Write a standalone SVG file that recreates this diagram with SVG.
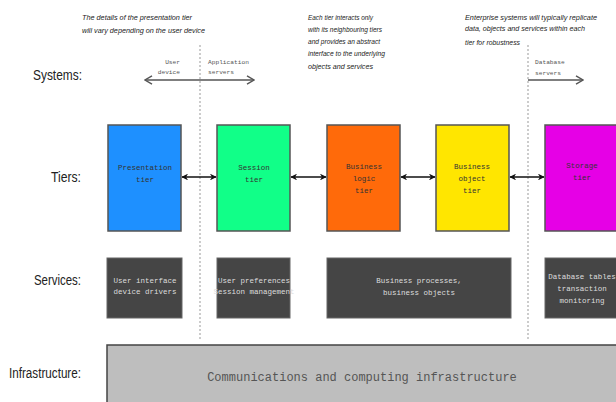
<svg xmlns="http://www.w3.org/2000/svg" width="616" height="402" viewBox="0 0 616 402">
<style>
.lbl{font-family:"Liberation Sans",Arial,sans-serif;font-size:14px;fill:#222;text-anchor:end}
.note{font-family:"Liberation Sans",Arial,sans-serif;font-style:italic;font-size:8px;fill:#222}
.mono{font-family:"Liberation Mono","Courier New",monospace;text-anchor:middle}
.tier{stroke:#555;stroke-width:1.5}
.tt{font-size:7.5px;fill:#333}
.svc{fill:#454545;stroke:#666;stroke-width:1}
.st{font-size:7.5px;fill:#ddd}
.sys{font-family:"Liberation Mono","Courier New",monospace;font-size:6.2px;fill:#555}
.div{stroke:#999;stroke-width:1;stroke-dasharray:2,2;fill:none}
.conn{stroke:#111;stroke-width:1.5;fill:none}
.open{stroke:#555;stroke-width:1.3;fill:none}
</style>
<defs>
<marker id="ah" viewBox="0 0 10 10" refX="9" refY="5" markerWidth="4.5" markerHeight="4.5" orient="auto-start-reverse">
<path d="M0,0 L10,5 L0,10 L3,5 z" fill="#111"/>
</marker>
<marker id="oh" viewBox="0 0 10 10" refX="9" refY="5" markerWidth="10" markerHeight="10" orient="auto-start-reverse" markerUnits="userSpaceOnUse">
<path d="M2,0.8 L9,5 L2,9.2" fill="none" stroke="#555" stroke-width="1.4"/>
</marker>
</defs>
<rect width="616" height="402" fill="#fff"/>

<g id="row-labels">
<text class="lbl" x="82" y="80" textLength="49" lengthAdjust="spacingAndGlyphs">Systems:</text>
<text class="lbl" x="81" y="182" textLength="30" lengthAdjust="spacingAndGlyphs">Tiers:</text>
<text class="lbl" x="81" y="285" textLength="47" lengthAdjust="spacingAndGlyphs">Services:</text>
<text class="lbl" x="81" y="378" textLength="72" lengthAdjust="spacingAndGlyphs">Infrastructure:</text>
</g>

<g id="notes">
<text class="note" x="82" y="20" textLength="110" lengthAdjust="spacingAndGlyphs">The details of the presentation tier</text>
<text class="note" x="82" y="33" textLength="123" lengthAdjust="spacingAndGlyphs">will vary depending on the user device</text>
<text class="note" x="308" y="20" textLength="65" lengthAdjust="spacingAndGlyphs">Each tier interacts only</text>
<text class="note" x="308" y="32" textLength="74" lengthAdjust="spacingAndGlyphs">with its neighbouring tiers</text>
<text class="note" x="308" y="44" textLength="72" lengthAdjust="spacingAndGlyphs">and provides an abstract</text>
<text class="note" x="308" y="56" textLength="77" lengthAdjust="spacingAndGlyphs">interface to the underlying</text>
<text class="note" x="308" y="69" textLength="65" lengthAdjust="spacingAndGlyphs">objects and services</text>
<text class="note" x="465" y="20" textLength="132" lengthAdjust="spacingAndGlyphs">Enterprise systems will typically replicate</text>
<text class="note" x="465" y="31" textLength="120" lengthAdjust="spacingAndGlyphs">data, objects and services within each</text>
<text class="note" x="465" y="45" textLength="55" lengthAdjust="spacingAndGlyphs">tier for robustness</text>
</g>

<g id="systems">
<text class="sys" x="180" y="64" text-anchor="end">User</text>
<text class="sys" x="180" y="74" text-anchor="end">device</text>
<text class="sys" x="208" y="64">Application</text>
<text class="sys" x="208" y="74">servers</text>
<text class="sys" x="535" y="64">Database</text>
<text class="sys" x="535" y="75">servers</text>
</g>

<g id="connectors">
<line class="div" x1="200" y1="45" x2="200" y2="340"/>
<line class="div" x1="528" y1="45" x2="528" y2="340"/>
<line class="open" x1="145" y1="80" x2="254" y2="80" marker-start="url(#oh)" marker-end="url(#oh)"/>
<line class="open" x1="528" y1="80" x2="583" y2="80" marker-end="url(#oh)"/>
<line class="conn" x1="182" y1="177" x2="216" y2="177" marker-start="url(#ah)" marker-end="url(#ah)"/>
<line class="conn" x1="291" y1="177" x2="326" y2="177" marker-start="url(#ah)" marker-end="url(#ah)"/>
<line class="conn" x1="401" y1="177" x2="435" y2="177" marker-start="url(#ah)" marker-end="url(#ah)"/>
<line class="conn" x1="510" y1="177" x2="544" y2="177" marker-start="url(#ah)" marker-end="url(#ah)"/>
</g>

<g id="presentation-tier">
<rect class="tier" x="108" y="125" width="73" height="106" fill="#1e90ff"/>
<text class="mono tt" x="145" y="170">Presentation</text>
<text class="mono tt" x="145" y="182">tier</text>
</g>
<g id="session-tier">
<rect class="tier" x="217" y="125" width="73" height="106" fill="#11ff88"/>
<text class="mono tt" x="254" y="170">Session</text>
<text class="mono tt" x="254" y="182">tier</text>
</g>
<g id="business-logic-tier">
<rect class="tier" x="327" y="125" width="73" height="106" fill="#ff6a0a"/>
<text class="mono tt" x="364" y="169">Business</text>
<text class="mono tt" x="364" y="181">logic</text>
<text class="mono tt" x="364" y="193">tier</text>
</g>
<g id="business-object-tier">
<rect class="tier" x="436" y="125" width="73" height="106" fill="#ffe600"/>
<text class="mono tt" x="472" y="169">Business</text>
<text class="mono tt" x="472" y="181">object</text>
<text class="mono tt" x="472" y="193">tier</text>
</g>
<g id="storage-tier">
<rect class="tier" x="545" y="125" width="80" height="106" fill="#e600e6"/>
<text class="mono tt" x="582" y="168">Storage</text>
<text class="mono tt" x="582" y="180">tier</text>
</g>

<g id="ui-services">
<rect class="svc" x="107" y="258" width="75" height="60"/>
<text class="mono st" x="145" y="283">User interface</text>
<text class="mono st" x="145" y="294">device drivers</text>
</g>
<g id="session-services">
<rect class="svc" x="217" y="258" width="73" height="60"/>
<text class="mono st" x="254" y="283">User preferences</text>
<text class="mono st" x="254" y="294">Session management</text>
</g>
<g id="business-services">
<rect class="svc" x="327" y="258" width="184" height="60"/>
<text class="mono st" x="419" y="283">Business processes,</text>
<text class="mono st" x="419" y="295">business objects</text>
</g>
<g id="storage-services">
<rect class="svc" x="545" y="258" width="80" height="60"/>
<text class="mono st" x="582" y="279">Database tables</text>
<text class="mono st" x="582" y="291">transaction</text>
<text class="mono st" x="582" y="303">monitoring</text>
</g>

<g id="infrastructure">
<rect x="107" y="345" width="520" height="70" fill="#bebebe" stroke="#444" stroke-width="1.5"/>
<text class="mono" x="362" y="381" font-size="12" fill="#555">Communications and computing infrastructure</text>
</g>
</svg>
